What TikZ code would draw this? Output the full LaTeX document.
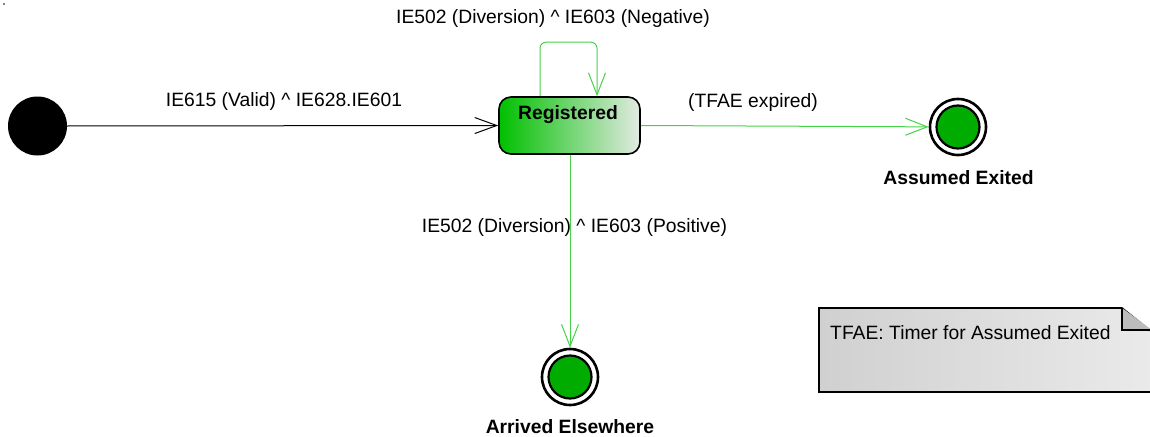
\documentclass[tikz,border=0pt]{standalone}
\usepackage{fontspec}
\setmainfont{Liberation Sans}
\usetikzlibrary{arrows.meta}
\definecolor{edgegreen}{RGB}{70,210,70}
\definecolor{finalgreen}{RGB}{0,172,0}
\definecolor{regleft}{RGB}{0,192,0}
\definecolor{regright}{RGB}{226,234,226}
\definecolor{noteleft}{RGB}{208,208,208}
\definecolor{noteright}{RGB}{234,234,234}
\definecolor{notefold}{RGB}{188,188,188}
\tikzset{
  lbl/.style={font=\fontsize{19.3}{23}\selectfont, inner sep=0pt},
  blbl/.style={font=\fontsize{19.3}{23}\selectfont\bfseries, inner sep=0pt},
  initstate/.style={circle, fill=black, minimum size=59pt, inner sep=0pt},
  statebox/.style={draw=black, line width=1.6pt, rounded corners=12pt, left color=regleft, right color=regright, minimum width=141pt, minimum height=57pt, inner sep=0pt},
  finalouter/.style={circle, draw=black, line width=2.6pt, fill=white, minimum size=56pt, inner sep=0pt},
  finalinner/.style={circle, draw=black, line width=2.2pt, fill=finalgreen, minimum size=43pt, inner sep=0pt},
  trans/.style={draw=edgegreen, line width=1pt, -{Straight Barb[length=22pt, width=17pt]}},
  inittrans/.style={draw=black, line width=1pt, -{Straight Barb[length=22pt, width=16pt]}},
}
\begin{document}
\begin{tikzpicture}[x=1pt, y=-1pt]
\useasboundingbox (0,0) rectangle (1150,436);
\clip (0,0) rectangle (1150,436);
% tiny corner dot
\fill[black] (4,4) circle (0.8pt);
% states
\node[initstate] (init) at (37.5,126) {};
\node[statebox] (reg) at (569.5,125.5) {};
\node[blbl] (regl) at (568,115) {Registered};
\node[finalouter] (ae) at (958,127) {};
\node[finalinner] (aein) at (ae) {};
\node[blbl] (ael) at (958.5,178) {Assumed Exited};
\node[finalouter] (arr) at (570,377) {};
\node[finalinner] (arrin) at (arr) {};
\node[blbl] (arrl) at (570,427) {Arrived Elsewhere};
% transitions
\draw[inittrans] (init.east) -- (reg.west);
\node[lbl] (l1) at (284,102) {IE615 (Valid) \^{} IE628.IE601};
\draw[trans, rounded corners=6pt] ([xshift=-29.5pt]reg.north) -- ++(0,-54) -| ([xshift=27.5pt]reg.north);
\node[lbl] (l2) at (553,19) {IE502 (Diversion) \^{} IE603 (Negative)};
\draw[trans] (reg.east) -- (ae);
\node[lbl] (l3) at (753,103) {(TFAE expired)};
\draw[trans] ([xshift=0.5pt]reg.south) -- (arr);
\node[lbl] (l4) at (574.5,228) {IE502 (Diversion) \^{} IE603 (Positive)};
% note
\path[left color=noteleft, right color=noteright] (819,308) -- (1122,308) -- (1152,332) -- (1152,392) -- (819,392) -- cycle;
\draw[line width=1.6pt] (1152,392) -- (819,392) -- (819,308) -- (1122,308) -- (1152,332);
\filldraw[fill=notefold, draw=black, line width=1.6pt] (1122,308) -- (1122,330) -- (1152,330);
\node[lbl, anchor=west] (note) at (830,333) {TFAE: Timer for Assumed Exited};
\end{tikzpicture}
\end{document}
